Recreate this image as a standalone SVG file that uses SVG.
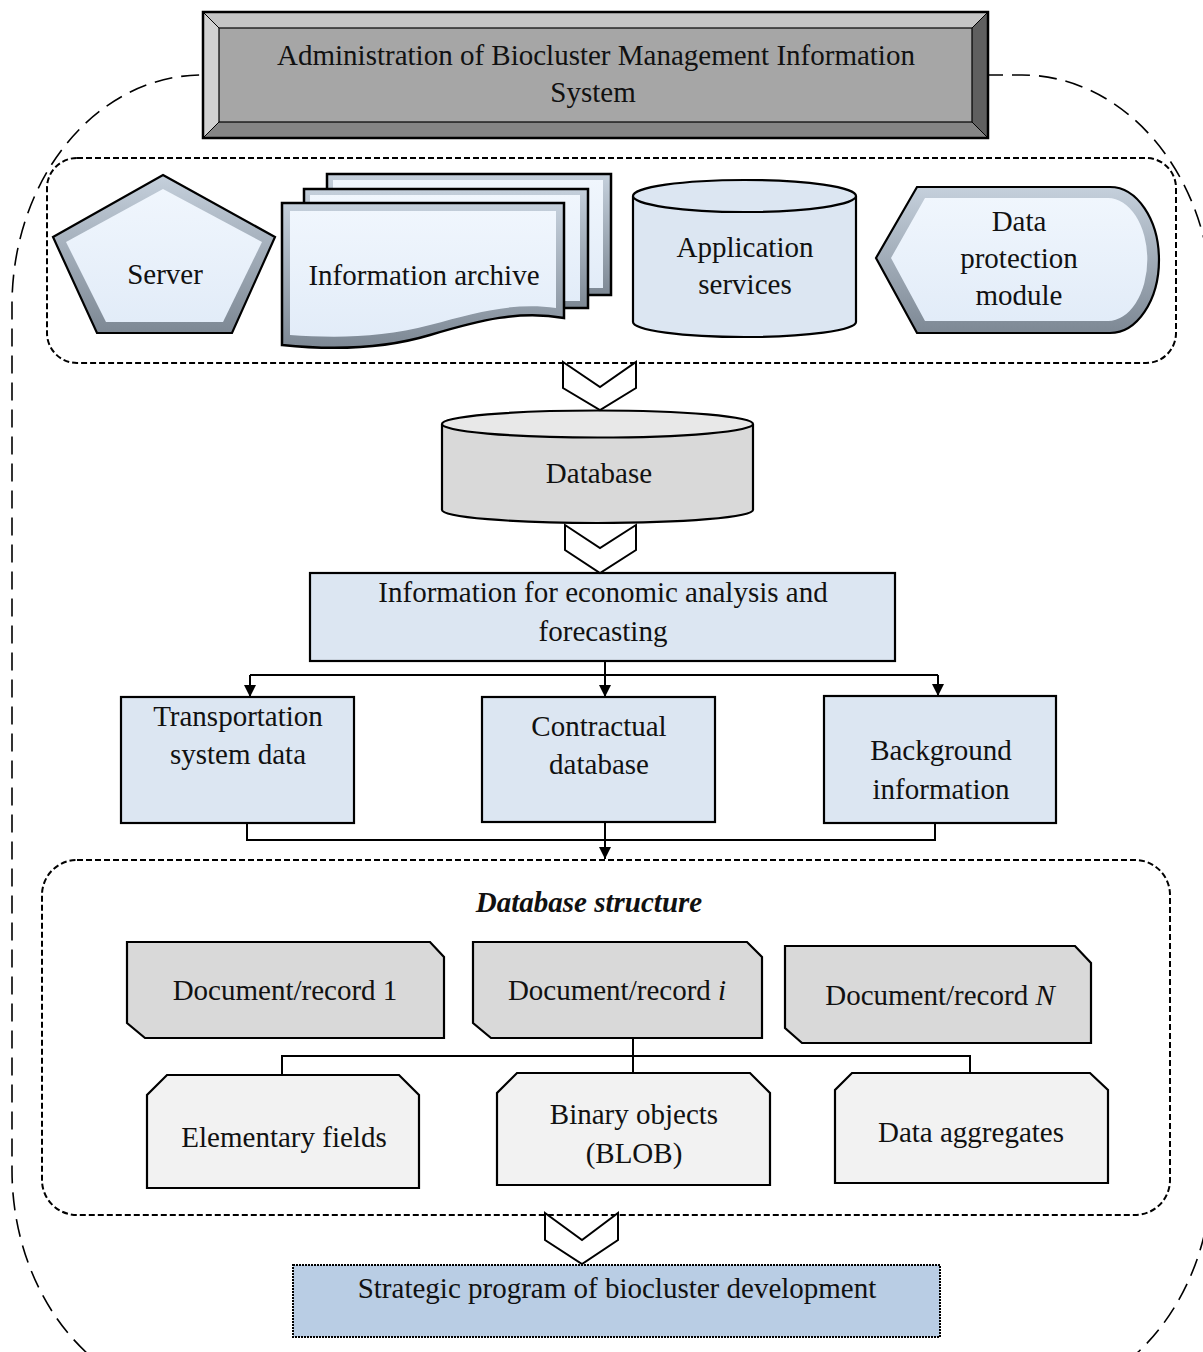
<svg xmlns="http://www.w3.org/2000/svg" width="1203" height="1352" viewBox="0 0 1203 1352">
<defs>
<style>
text{font-family:"Liberation Serif","Times New Roman",serif;font-size:29px;fill:#111;text-anchor:middle}
.blk{stroke:#000;stroke-width:2.2;stroke-linejoin:miter}
.lb{fill:#dce6f2}
.gr{fill:#d9d9d9}
.lg{fill:#f2f2f2}
.chev{fill:#fff;stroke:#000;stroke-width:2}
.con{fill:none;stroke:#000;stroke-width:2}
.dash{fill:none;stroke:#000;stroke-width:2;stroke-dasharray:6 3}
</style>
<linearGradient id="bev" x1="0" y1="0" x2="0" y2="1">
<stop offset="0" stop-color="#c5d0dc"/><stop offset="1" stop-color="#7d8894"/>
</linearGradient>
<linearGradient id="face" x1="0" y1="0" x2="0" y2="1">
<stop offset="0" stop-color="#f0f6fd"/><stop offset="1" stop-color="#e2ecf8"/>
</linearGradient>
<marker id="ah" viewBox="0 0 10 10" refX="10" refY="5" markerWidth="12" markerHeight="12" markerUnits="userSpaceOnUse" orient="auto">
<path d="M0,0 L10,5 L0,10 Z" fill="#000"/>
</marker>
</defs>
<rect width="1203" height="1352" fill="#fff"/>

<g id="outer-boundary">
<rect x="12" y="75" width="1200" height="1325" rx="190" ry="230" fill="none" stroke="#000" stroke-width="1.6" stroke-dasharray="18 9"/>
</g>

<g id="title">
<rect x="203" y="12" width="785" height="126" fill="#a6a6a6"/>
<polygon points="203,12 988,12 972,28 219,28" fill="#c4c4c4"/>
<polygon points="203,12 219,28 219,122 203,138" fill="#d2d2d2"/>
<polygon points="988,12 988,138 972,122 972,28" fill="#5f5f5f"/>
<polygon points="203,138 219,122 972,122 988,138" fill="#858585"/>
<rect x="219" y="28" width="753" height="94" fill="none" stroke="#000" stroke-width="1.2"/>
<path d="M203,12 L219,28 M988,12 L972,28 M203,138 L219,122 M988,138 L972,122" stroke="#000" stroke-width="1"/>
<rect x="203" y="12" width="785" height="126" fill="none" stroke="#000" stroke-width="2.5"/>
<text x="596" y="65">Administration of Biocluster Management Information</text>
<text x="593" y="102">System</text>
</g>

<g id="sources-group">
<rect x="47" y="158" width="1129" height="205" rx="30" class="dash"/>
</g>

<g id="server">
<polygon points="163,175 275,237 232,333 97,333 53,237" fill="url(#bev)"/>
<polygon points="163,189 262,242 223,322 106,322 66,242" fill="url(#face)"/>
<polygon points="163,175 275,237 232,333 97,333 53,237" fill="none" stroke="#000" stroke-width="2.2"/>
<text x="165" y="284">Server</text>
</g>

<g id="information-archive">
<rect x="327" y="174" width="284" height="121" fill="url(#bev)" stroke="#000" stroke-width="2.5"/>
<rect x="333" y="180" width="270" height="108" fill="url(#face)"/>
<rect x="304" y="189" width="284" height="119" fill="url(#bev)" stroke="#000" stroke-width="2.5"/>
<rect x="310" y="195" width="270" height="106" fill="url(#face)"/>
<path d="M282,203 H564 V318 C520,310 480,320 430,335 C380,350 330,350 282,345 Z" fill="url(#bev)" stroke="#000" stroke-width="2.5"/>
<path d="M290,211 H556 V308 C515,302 478,312 430,325 C382,338 334,338 290,335 Z" fill="url(#face)"/>
<text x="424" y="285">Information archive</text>
</g>

<g id="application-services">
<path d="M633,196 V322 A111.5,15 0 0 0 856,322 V196" class="lb blk"/>
<ellipse cx="744.5" cy="196" rx="111.5" ry="16" class="lb blk"/>
<text x="745" y="257">Application</text>
<text x="745" y="294">services</text>
</g>

<g id="data-protection-module">
<path d="M876,258 L917,187 H1110 A49,73 0 0 1 1110,333 H917 Z" fill="url(#bev)"/>
<path d="M891,258 L925,198 H1108 A39,61 0 0 1 1108,321 H925 Z" fill="url(#face)"/>
<path d="M876,258 L917,187 H1110 A49,73 0 0 1 1110,333 H917 Z" fill="none" stroke="#000" stroke-width="2.2"/>
<text x="1019" y="231">Data</text>
<text x="1019" y="268">protection</text>
<text x="1019" y="305">module</text>
</g>

<g id="database">
<path d="M442,424 V510 A155.5,13 0 0 0 753,510 V424" class="gr blk"/>
<ellipse cx="597.5" cy="424" rx="155.5" ry="13.5" fill="#e8e8e8" class="blk"/>
<text x="599" y="483">Database</text>
</g>

<g id="info-economic">
<rect x="310" y="573" width="585" height="88" class="lb blk"/>
<text x="603" y="602">Information for economic analysis and</text>
<text x="603" y="641">forecasting</text>
</g>

<g id="transportation">
<rect x="121" y="697" width="233" height="126" class="lb blk"/>
<text x="238" y="726">Transportation</text>
<text x="238" y="764">system data</text>
</g>
<g id="contractual">
<rect x="482" y="697" width="233" height="125" class="lb blk"/>
<text x="599" y="736">Contractual</text>
<text x="599" y="774">database</text>
</g>
<g id="background">
<rect x="824" y="696" width="232" height="127" class="lb blk"/>
<text x="941" y="760">Background</text>
<text x="941" y="799">information</text>
</g>

<g id="database-structure">
<rect x="42" y="860" width="1128" height="355" rx="35" class="dash"/>
<text x="589" y="912" font-weight="bold" font-style="italic">Database structure</text>
</g>

<g id="doc-1">
<polygon points="127,942 430,942 444,957 444,1038 145,1038 127,1023" class="gr blk"/>
<text x="285" y="1000">Document/record 1</text>
</g>
<g id="doc-i">
<polygon points="473,942 747,942 762,957 762,1038 491,1038 473,1023" class="gr blk"/>
<text x="617" y="1000">Document/record <tspan font-style="italic">i</tspan></text>
</g>
<g id="doc-n">
<polygon points="785,946 1075,946 1091,963 1091,1043 802,1043 785,1028" class="gr blk"/>
<text x="940" y="1005">Document/record <tspan font-style="italic">N</tspan></text>
</g>

<g id="elementary-fields">
<polygon points="167,1075 399,1075 419,1095 419,1188 147,1188 147,1095" class="lg blk"/>
<text x="284" y="1147">Elementary fields</text>
</g>
<g id="binary-objects">
<polygon points="517,1073 750,1073 770,1093 770,1185 497,1185 497,1093" class="lg blk"/>
<text x="634" y="1124">Binary objects</text>
<text x="634" y="1163">(BLOB)</text>
</g>
<g id="data-aggregates">
<polygon points="852,1073 1090,1073 1108,1090 1108,1183 835,1183 835,1090" class="lg blk"/>
<text x="971" y="1142">Data aggregates</text>
</g>

<g id="strategic-program">
<rect x="293" y="1265" width="647" height="72" fill="#b9cde4" stroke="#000" stroke-width="2" stroke-dasharray="2 1"/>
<text x="617" y="1298">Strategic program of biocluster development</text>
</g>

<g id="connectors">
<polygon points="563,362 600,387 636,362 636,388 600,410 563,388" class="chev"/>
<polygon points="565,525 600,548 636,525 636,550 600,573 565,550" class="chev"/>
<polygon points="545,1213 582,1240 618,1213 618,1240 582,1264 545,1240" class="chev"/>
<path d="M605,661 V697" class="con" marker-end="url(#ah)"/>
<path d="M250,675 H938" class="con"/>
<path d="M250,675 V697" class="con" marker-end="url(#ah)"/>
<path d="M938,675 V696" class="con" marker-end="url(#ah)"/>
<path d="M247,823 V840 H935 V823" class="con"/>
<path d="M605,822 V859" class="con" marker-end="url(#ah)"/>
<path d="M633,1038 V1073" class="con"/>
<path d="M282,1075 V1056 H970 V1073" class="con"/>
</g>
</svg>
